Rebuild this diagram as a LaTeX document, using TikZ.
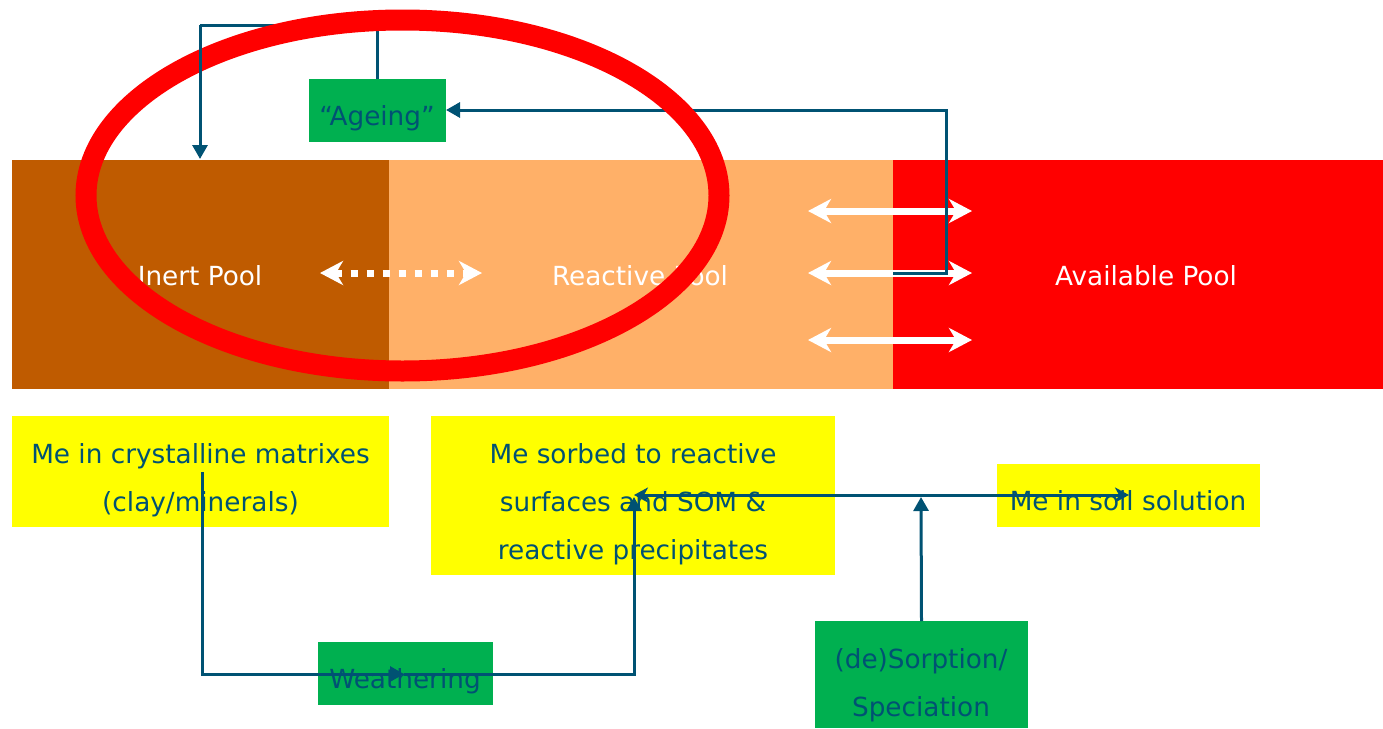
\documentclass[tikz,border=0pt]{standalone}
\usepackage{fontspec}
\setmainfont{DejaVu Sans}
\usetikzlibrary{arrows.meta}
\definecolor{inertc}{RGB}{191,91,0}
\definecolor{reactc}{RGB}{255,176,104}
\definecolor{availc}{RGB}{255,0,0}
\definecolor{boxgreen}{RGB}{0,176,80}
\definecolor{boxyellow}{RGB}{255,255,0}
\definecolor{conncol}{RGB}{0,82,115}
\tikzset{
  tri/.tip={Triangle[length=14pt,width=15pt]},
  stl/.tip={Stealth[length=14pt,width=15pt,inset=4pt]},
  wtip/.tip={Stealth[length=23pt,width=24pt,inset=7pt]},
  poolbox/.style={draw=none, inner sep=0pt, outer sep=0pt, anchor=north west},
  colbox/.style={draw=none, inner sep=0pt, outer sep=0pt, anchor=north west},
  pooltext/.style={text=white, inner sep=0pt, anchor=base, font=\fontsize{26.3}{48}\selectfont},
  boxtext/.style={text=conncol, inner sep=0pt, anchor=base, align=center, font=\fontsize{26.3}{48}\selectfont},
  conn/.style={draw=conncol, line width=3pt},
  wharrow/.style={draw=white, line width=7pt, wtip-wtip},
  dotarrow/.style={draw=white, line width=7pt, dash pattern=on 7pt off 9pt, wtip-wtip},
}
\begin{document}
\begin{tikzpicture}[x=1pt,y=-1pt]
\useasboundingbox (0,0) rectangle (1383,728);
% pools
\node[poolbox, fill=inertc, minimum width=377pt, minimum height=229pt] (inert) at (12,160) {};
\node[poolbox, fill=reactc, minimum width=504pt, minimum height=229pt] (react) at (389,160) {};
\node[poolbox, fill=availc, minimum width=490pt, minimum height=229pt] (avail) at (893,160) {};
\node[pooltext] (inertlbl) at (200,285) {Inert Pool};
\node[pooltext] (reactlbl) at (640,285) {Reactive Pool};
\node[pooltext] (availlbl) at (1146,285) {Available Pool};
% exchange arrows
\coordinate (d1) at (320,273); \coordinate (d2) at (482,273);
\draw[dotarrow] (d1) -- (d2);
\coordinate (w1a) at (808,211); \coordinate (w1b) at (972,211);
\coordinate (w2a) at (808,273); \coordinate (w2b) at (972,273);
\coordinate (w3a) at (808,340); \coordinate (w3b) at (972,340);
\draw[wharrow] (w1a) -- (w1b);
\draw[wharrow] (w2a) -- (w2b);
\draw[wharrow] (w3a) -- (w3b);
% boxes
\node[colbox, fill=boxgreen, minimum width=137pt, minimum height=63pt] (ageing) at (309,79) {};
\node[boxtext] (ageinglbl) at (377,125) {“Ageing”};
\node[colbox, fill=boxyellow, minimum width=377pt, minimum height=111pt] (crystal) at (12,416) {};
\node[boxtext] (crystallbl) at (200.5,511) {Me in crystalline matrixes\\(clay/minerals)};
\node[colbox, fill=boxyellow, minimum width=404pt, minimum height=159pt] (sorbed) at (431,416) {};
\node[boxtext] (sorbedlbl) at (633,559) {Me sorbed to reactive\\surfaces and SOM \&\\reactive precipitates};
\node[colbox, fill=boxyellow, minimum width=263pt, minimum height=63pt] (soil) at (997,464) {};
\node[boxtext] (soillbl) at (1128,510) {Me in soil solution};
\node[colbox, fill=boxgreen, minimum width=175pt, minimum height=63pt] (weather) at (318,642) {};
\node[boxtext] (weatherlbl) at (405,688) {Weathering};
\node[colbox, fill=boxgreen, minimum width=213pt, minimum height=107pt] (sorption) at (815,621) {};
\node[boxtext] (sorptionlbl) at (921,716) {(de)Sorption/\\Speciation};
% connectors under the ellipse
\coordinate (agCorner) at (200,25);
\coordinate (inTop) at (200,159);
\coordinate (avStart) at (893,273);
\coordinate (avCorner) at (946,110);
\draw[conn] (ageing.north) |- (agCorner);
\draw[conn,-tri] (avStart) -| (avCorner) -- (ageing.east |- avCorner);
% highlight ellipse
\coordinate (ellc) at (402.5,195.5);
\draw[draw=availc, line width=21pt] (ellc) ellipse [x radius=316.5pt, y radius=175.5pt];
\draw[conn,-tri] (agCorner) -- (inTop);
% bottom connectors
\coordinate (wStart) at (202,472);
\coordinate (wMid) at (404,674);
\coordinate (wEnd) at (634,497);
\draw[conn,-tri] (wStart) |- (wMid);
\draw[conn,-tri] (wMid) -| (wEnd);
\coordinate (sorbL) at (634,495);
\coordinate (soilR) at (1129,495);
\draw[conn,stl-stl] (sorbL) -- (soilR);
\coordinate (sorpTop) at (921,497);
\draw[conn,-tri] (sorption.north) -- (sorpTop);
\end{tikzpicture}
\end{document}
